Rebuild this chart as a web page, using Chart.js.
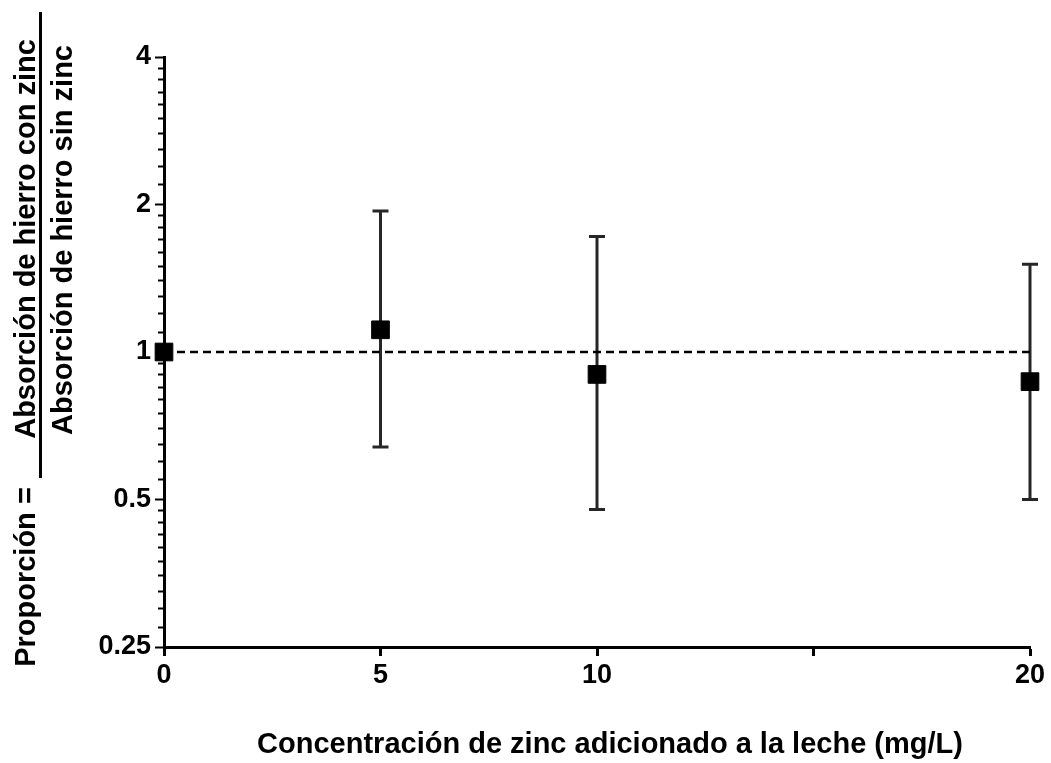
<!DOCTYPE html>
<html>
<head>
<meta charset="utf-8">
<script src="https://cdn.jsdelivr.net/npm/chart.js@4.4.0/dist/chart.umd.min.js"></script>
<style>
    body { margin: 0; background: #fff; }
    #wrap { width: 1051px; height: 763px; position: relative; }
</style>
</head>
<body>
<div id="wrap"><canvas id="chart"></canvas></div>
<script>
// zinc added to milk (mg/L) and iron absorption ratio with / without zinc
const concentrations = [0, 5, 10, 20];
const ratios = [1.0, 1.11, 0.90, 0.87];
const ratioLow = [null, 0.64, 0.477, 0.50];
const ratioHigh = [null, 1.94, 1.72, 1.51];

const yTicks = [0.25, 0.5, 1, 2, 4];
const xTicks = [0, 5, 10, 15, 20];
const xTickLabels = ['0', '5', '10', '', '20'];

const FONT = '"Liberation Sans", Arial, sans-serif';

const decor = {
    id: 'decor',
    beforeDatasetsDraw(chart) {
        const ctx = chart.ctx;
        const x = chart.scales.x;
        const y = chart.scales.y;
        // error bars
        ctx.save();
        ctx.strokeStyle = '#262626';
        ctx.lineWidth = 3;
        concentrations.forEach((c, i) => {
            if (ratioLow[i] == null) return;
            const px = x.getPixelForValue(c);
            const top = y.getPixelForValue(ratioHigh[i]);
            const bot = y.getPixelForValue(ratioLow[i]);
            ctx.beginPath();
            ctx.moveTo(px, top);
            ctx.lineTo(px, bot);
            ctx.moveTo(px - 8, top);
            ctx.lineTo(px + 8, top);
            ctx.moveTo(px - 8, bot);
            ctx.lineTo(px + 8, bot);
            ctx.stroke();
        });
        ctx.restore();
    },
    afterDraw(chart) {
        const ctx = chart.ctx;
        const y = chart.scales.y;
        const left = chart.chartArea.left;
        // minor ticks of the log2 axis
        ctx.save();
        ctx.strokeStyle = '#000';
        ctx.lineWidth = 2;
        for (let t = 0; t < yTicks.length - 1; t++) {
            const base = yTicks[t];
            for (let k = 1; k < 10; k++) {
                const py = Math.round(y.getPixelForValue(base * (1 + k / 10))) + 0.5;
                ctx.beginPath();
                ctx.moveTo(left - 1, py);
                ctx.lineTo(left - 6, py);
                ctx.stroke();
            }
        }

        ctx.fillStyle = '#000';
        ctx.font = 'bold 29px ' + FONT;
        const vtext = (str, tx, ty) => {
            ctx.save();
            ctx.translate(tx, ty);
            ctx.rotate(-Math.PI / 2);
            ctx.textAlign = 'center';
            ctx.textBaseline = 'alphabetic';
            ctx.fillText(str, 0, 0);
            ctx.restore();
        };
        vtext('Absorción de hierro con zinc', 35, 239);
        ctx.fillRect(39, 12, 3, 466);
        vtext('Absorción de hierro sin zinc', 72, 240);
        vtext('Proporción =', 35, 577);

        ctx.textAlign = 'center';
        ctx.textBaseline = 'middle';
        ctx.fillText('Concentración de zinc adicionado a la leche (mg/L)', 610, 745);
        ctx.restore();
    }
};

const chart = new Chart(document.getElementById('chart'), {
    type: 'scatter',
    data: {
        datasets: [
            {
                label: 'Proporción',
                data: concentrations.map((c, i) => ({ x: c, y: ratios[i] })),
                backgroundColor: '#000',
                borderColor: '#000',
                borderWidth: 1,
                pointStyle: 'rect',
                pointRadius: 12.5,
                pointHoverRadius: 12.5,
                clip: false,
                order: 0
            },
            {
                label: 'ref',
                data: [{ x: xTicks[0], y: 1 }, { x: xTicks[xTicks.length - 1], y: 1 }],
                showLine: true,
                borderColor: '#000',
                borderWidth: 2.5,
                borderDash: [8, 5],
                pointRadius: 0,
                order: 1
            }
        ]
    },
    options: {
        responsive: true,
        maintainAspectRatio: false,
        animation: false,
        layout: { padding: { left: 0, right: 21, top: 57, bottom: 0 } },
        plugins: {
            legend: { display: false },
            tooltip: { enabled: false }
        },
        scales: {
            x: {
                type: 'linear',
                min: 0,
                max: 20,
                afterBuildTicks: (s) => { s.ticks = xTicks.map(v => ({ value: v })); },
                afterFit: (s) => { s.height = 116; },
                border: { color: '#000', width: 3 },
                grid: { display: true, drawOnChartArea: false, drawTicks: true, tickLength: 9, tickWidth: 3, tickColor: '#000' },
                ticks: {
                    color: '#000',
                    padding: 3,
                    maxRotation: 0,
                    font: { family: FONT, size: 27, weight: 'bold' },
                    callback: (v) => xTickLabels[xTicks.indexOf(v)]
                }
            },
            y: {
                type: 'logarithmic',
                min: 0.25,
                max: 4,
                afterBuildTicks: (s) => { s.ticks = yTicks.map(v => ({ value: v })); },
                afterFit: (s) => { s.width = 164; },
                border: { color: '#000', width: 3 },
                grid: { display: true, drawOnChartArea: false, drawTicks: true, tickLength: 9, tickWidth: 2, tickColor: '#000' },
                ticks: {
                    color: '#000',
                    padding: 4,
                    font: { family: FONT, size: 27, weight: 'bold' },
                    callback: (v) => String(v)
                }
            }
        }
    },
    plugins: [decor]
});
</script>
</body>
</html>
